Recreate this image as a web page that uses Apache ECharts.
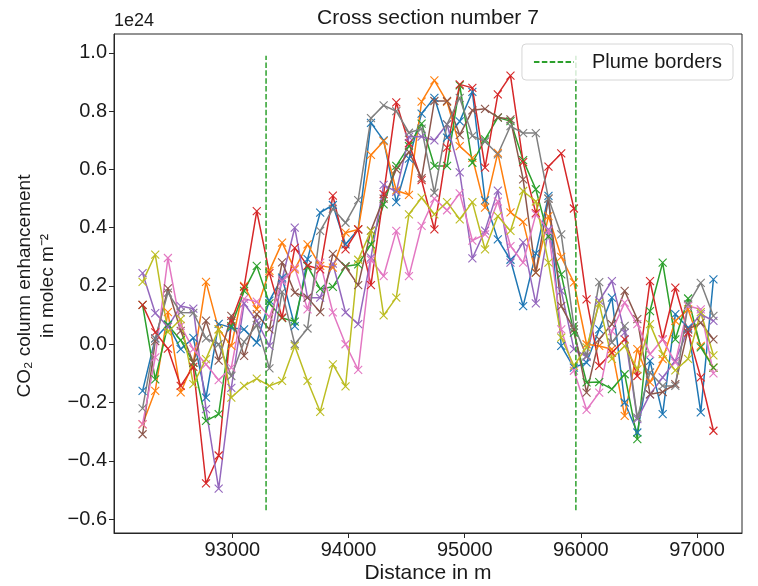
<!DOCTYPE html>
<html>
<head>
<meta charset="utf-8">
<script src="https://cdn.jsdelivr.net/npm/echarts@6/dist/echarts.min.js"></script>
<style>
  html, body { margin: 0; padding: 0; background: #fff; }
  #chart { width: 758px; height: 586px; }
</style>
</head>
<body>
<div id="chart"></div>
<script>
// Along-track distance of each sample (m)
const distance = [92227, 92336, 92445, 92555, 92664, 92773, 92882, 92991, 93101, 93210,
  93319, 93428, 93537, 93647, 93756, 93865, 93974, 94083, 94193, 94302,
  94411, 94520, 94629, 94739, 94848, 94957, 95066, 95175, 95285, 95394,
  95503, 95612, 95721, 95831, 95940, 96049, 96158, 96267, 96377, 96486,
  96595, 96704, 96813, 96923, 97032, 97141];

// CO2 column enhancement per profile, in units of 1e24 molec m^-2
const profile1 = [-0.16, 0.02, 0.068, -0.017, 0.022, -0.183, 0.07, 0.057, 0.051, 0.006, 0.15, 0.229, 0.062, 0.292, 0.452, 0.478, 0.343, 0.394, 0.76, 0.7, 0.488, 0.637, 0.792, 0.846, 0.709, 0.765, 0.866, 0.494, 0.36, 0.29, 0.131, 0.312, 0.509, -0.006, -0.08, -0.063, 0.051, 0.16, -0.2, -0.303, -0.057, -0.24, 0.103, 0.057, -0.234, 0.223];
const profile2 = [-0.275, -0.16, 0.11, -0.165, -0.063, 0.214, 0.051, -0.006, 0.2, 0.12, 0.252, 0.349, 0.257, 0.343, 0.269, 0.263, 0.383, 0.394, 0.65, 0.697, 0.528, 0.513, 0.833, 0.906, 0.832, 0.68, 0.64, 0.469, 0.657, 0.453, 0.42, 0.246, 0.44, 0.3, 0.212, 0.0, -0.006, -0.017, -0.246, -0.017, -0.131, -0.051, 0.08, 0.12, -0.006, -0.08];
const profile3 = [0.135, -0.121, 0.066, 0.014, -0.063, -0.263, -0.24, 0.062, 0.183, 0.269, 0.14, 0.09, 0.078, 0.268, 0.19, 0.197, 0.268, 0.274, 0.343, 0.48, 0.612, 0.68, 0.757, 0.612, 0.612, 0.889, 0.623, 0.703, 0.778, 0.766, 0.632, 0.532, 0.37, 0.24, 0.04, -0.131, -0.13, -0.154, -0.103, -0.326, 0.114, 0.28, 0.017, 0.157, -0.011, -0.08];
const profile4 = [0.135, 0.041, -0.015, -0.143, -0.078, -0.478, -0.382, 0.08, 0.197, 0.457, 0.244, 0.091, 0.331, 0.27, 0.257, 0.51, 0.326, 0.394, 0.203, 0.515, 0.83, 0.69, 0.563, 0.394, 0.675, 0.892, 0.88, 0.606, 0.858, 0.922, 0.625, 0.45, 0.61, 0.655, 0.466, 0.154, -0.074, -0.029, 0.017, -0.109, 0.217, 0.017, 0.194, 0.04, -0.114, -0.297];
const profile5 = [0.244, 0.107, 0.06, 0.131, 0.122, -0.223, -0.496, -0.15, 0.14, 0.08, -0.006, 0.223, 0.4, 0.16, 0.16, 0.277, 0.109, 0.069, 0.297, 0.547, 0.523, 0.712, 0.713, 0.70, 0.755, 0.59, 0.295, 0.39, 0.527, 0.28, 0.35, 0.14, 0.394, 0.183, -0.017, -0.043, 0.15, 0.217, 0.04, -0.257, -0.172, -0.114, -0.057, 0.051, 0.103, 0.08];
const profile6 = [-0.309, 0.011, 0.192, 0.046, -0.063, 0.081, -0.056, 0.097, -0.04, 0.103, 0.051, 0.281, 0.177, 0.16, 0.11, 0.31, 0.266, 0.203, 0.39, 0.5, 0.6, 0.66, 0.57, 0.835, 0.835, 0.718, 0.803, 0.808, 0.779, 0.772, 0.566, 0.246, 0.5, 0.131, 0.051, -0.166, 0.017, 0.069, 0.183, 0.086, -0.172, -0.164, -0.137, 0.051, 0.074, 0.017];
const profile7 = [-0.274, -0.045, 0.296, 0.063, -0.017, -0.069, -0.123, -0.08, 0.156, 0.146, 0.093, 0.215, 0.263, 0.12, 0.28, 0.109, 0.0, -0.088, 0.29, 0.234, 0.389, 0.234, 0.406, 0.5, 0.46, 0.518, 0.356, 0.377, 0.49, 0.337, 0.28, 0.446, 0.39, 0.051, -0.091, -0.225, -0.166, 0.045, 0.143, 0.069, -0.034, 0.017, -0.063, 0.131, 0.12, -0.1];
const profile8 = [-0.22, 0.02, 0.177, 0.109, 0.108, 0.02, 0.0, -0.109, 0.008, 0.066, -0.083, 0.18, 0.0, 0.054, 0.389, 0.465, 0.417, 0.495, 0.776, 0.82, 0.8, 0.726, 0.74, 0.52, 0.755, 0.846, 0.715, 0.696, 0.652, 0.749, 0.725, 0.725, 0.5, 0.377, 0.063, -0.04, 0.213, 0.006, 0.063, -0.252, -0.097, -0.143, -0.143, 0.137, 0.211, 0.097];
const profile9 = [0.214, 0.308, 0.042, 0.086, -0.137, -0.051, 0.051, -0.183, -0.143, -0.118, -0.143, -0.126, -0.006, -0.126, -0.232, -0.069, -0.145, 0.29, 0.389, 0.099, 0.16, 0.446, 0.503, 0.446, 0.488, 0.429, 0.488, 0.326, 0.44, 0.389, 0.526, 0.49, 0.28, 0.023, -0.074, -0.011, 0.14, -0.05, -0.006, -0.086, 0.069, -0.034, -0.09, -0.05, 0.11, -0.038];

const profiles = [profile1, profile2, profile3, profile4, profile5, profile6, profile7, profile8, profile9];
const profileColors = ['#1f77b4', '#ff7f0e', '#2ca02c', '#d62728', '#9467bd', '#8c564b', '#e377c2', '#7f7f7f', '#bcbd22'];

// Plume border positions (m) and the vertical extent of the border markers
const plumeBorders = [93290, 95957];
const borderSpan = [-0.57, 0.99];

// Axis extents and ticks
const xRange = [91981, 97387];
const yRange = [-0.648, 1.065];
const xTicks = [93000, 94000, 95000, 96000, 97000];
const yTicks = [-0.6, -0.4, -0.2, 0.0, 0.2, 0.4, 0.6, 0.8, 1.0];

const FONT = '"Liberation Sans", Arial, sans-serif';
const TXT = '#1a1a1a';
const crossMarker = 'path://M0,0L10,10M10,0L0,10';

const series = profiles.map((vals, i) => ({
  name: 'profile ' + (i + 1),
  type: 'line',
  data: vals.map((v, k) => [distance[k], v]),
  symbol: crossMarker,
  symbolSize: 8,
  showAllSymbol: true,
  lineStyle: { color: profileColors[i], width: 1.5 },
  itemStyle: { color: 'none', borderColor: profileColors[i], borderWidth: 1.1 },
  emphasis: { disabled: true },
  z: 2
}));

plumeBorders.forEach((b) => {
  series.push({
    name: 'Plume borders',
    type: 'line',
    data: borderSpan.map((y) => [b, y]),
    symbol: 'none',
    lineStyle: { color: '#2ca02c', width: 1.5, type: [5.5, 2.4] },
    itemStyle: { color: '#2ca02c' },
    emphasis: { disabled: true },
    z: 3
  });
});

const fmtY = (v) => (v < -1e-9 ? '\u2212' : '') + Math.abs(v).toFixed(1);

const option = {
  animation: false,
  backgroundColor: '#ffffff',
  grid: { left: 114, right: 16, top: 34, bottom: 53, show: true, borderColor: '#262626', borderWidth: 1, backgroundColor: 'transparent' },
  xAxis: {
    type: 'value',
    min: xRange[0],
    max: xRange[1],
    splitLine: { show: false },
    axisLine: { show: true, onZero: false, lineStyle: { color: '#262626', width: 1 } },
    axisTick: { show: true, length: 5, customValues: xTicks, lineStyle: { color: '#262626' } },
    axisLabel: { customValues: xTicks, color: TXT, fontSize: 20, fontFamily: FONT, margin: 7, formatter: (v) => String(v) }
  },
  yAxis: {
    type: 'value',
    min: yRange[0],
    max: yRange[1],
    splitLine: { show: false },
    axisLine: { show: true, onZero: false, lineStyle: { color: '#262626', width: 1 } },
    axisTick: { show: true, length: 5, customValues: yTicks, lineStyle: { color: '#262626' } },
    axisLabel: { customValues: yTicks, color: TXT, fontSize: 20, fontFamily: FONT, margin: 7, formatter: fmtY }
  },
  legend: {
    data: ['Plume borders'],
    right: 25,
    top: 44,
    orient: 'vertical',
    itemWidth: 40,
    itemHeight: 14,
    padding: [8, 11, 8, 11],
    borderColor: '#d6d6d6',
    borderWidth: 1,
    borderRadius: 4,
    backgroundColor: 'rgba(255,255,255,0.8)',
    selectedMode: false,
    itemStyle: { opacity: 0 },
    textStyle: { color: TXT, fontSize: 20, fontFamily: FONT, padding: [0, 0, 0, 13] }
  },
  graphic: [
    { type: 'text', x: 428, y: 18, style: { text: 'Cross section number 7', fontSize: 21, fontFamily: FONT, fill: TXT, textAlign: 'center', textVerticalAlign: 'middle' } },
    { type: 'text', x: 114, y: 21, style: { text: '1e24', fontSize: 18, fontFamily: FONT, fill: TXT, textAlign: 'left', textVerticalAlign: 'middle' } },
    { type: 'text', x: 428, y: 573, style: { text: 'Distance in m', fontSize: 21, fontFamily: FONT, fill: TXT, textAlign: 'center', textVerticalAlign: 'middle' } },
    { type: 'text', x: 36, y: 286, rotation: Math.PI / 2, style: { text: 'CO\u2082 column enhancement\nin molec m\u207B\u00B2', fontSize: 19, lineHeight: 23, fontFamily: FONT, fill: TXT, textAlign: 'center', textVerticalAlign: 'middle' } }
  ],
  series: series
};

const chart = echarts.init(document.getElementById('chart'), null, { renderer: 'canvas' });
chart.setOption(option);
</script>
</body>
</html>
